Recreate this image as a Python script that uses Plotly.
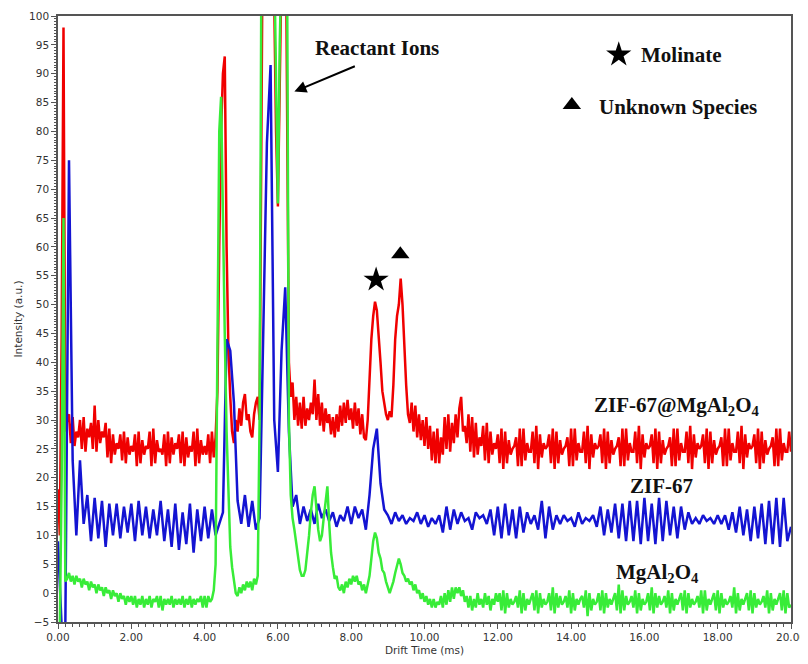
import numpy as np
import plotly.graph_objects as go

# Drift time sampling grids (ms)
drift_time_fine = np.round(np.arange(0, 20.0001, 0.05), 2)
drift_time_coarse = np.round(np.arange(0, 20.0001, 0.1), 1)

# ZIF-67@MgAl2O4 (0.05 ms steps)
zif67_mgal2o4 = [
    18, 10, 45, 98, 28, 30, 31, 26, 30.5, 25.5, 28, 27, 30, 25, 30.5, 24.5, 28.5, 27, 29.5, 25,
    32.5, 24.5, 30, 26, 28, 27, 29.5, 23.5, 28.5, 22.5, 27.5, 24, 26, 25, 27.5, 23, 28, 22.5, 27, 24,
    25.5, 24.5, 27.5, 22, 28, 22.5, 26.5, 24, 25.5, 25, 28, 22, 28.5, 22.5, 26.5, 24.5, 25, 24, 27.5, 22,
    28, 22.5, 27, 24, 26, 25, 27.5, 22.5, 28, 22, 27, 23.5, 25.5, 24.5, 28, 22, 28.5, 22.5, 26.5, 24,
    25.5, 24, 27.5, 22.5, 28, 23.5, 27, 35, 60, 80, 90, 93, 60, 42, 34, 28, 26, 30, 28, 32,
    29, 33, 34.5, 30, 31, 28, 27, 31, 33, 34, 30, 80, 130, 130, 130, 130, 130, 125, 100, 80,
    67, 90, 125, 130, 130, 90, 40, 34, 36.5, 30, 34, 29, 33, 28.5, 34, 29, 32, 30, 33, 31,
    37, 30, 34.5, 29, 33, 28, 32, 29.5, 31, 27.5, 30.5, 27, 31, 28, 32.5, 29, 33, 29.5, 33.5, 30,
    32, 28.5, 33, 29, 32, 27.5, 31, 27, 26.5, 30, 37, 44, 48, 50.5, 49, 45, 40, 35, 33, 31,
    30, 31.5, 30.5, 36, 44, 48, 50, 54.5, 50, 42, 36, 31, 29.5, 33, 28, 32.5, 27, 31, 26.5, 30,
    25.5, 30.5, 25, 29, 23, 28, 22.5, 28.5, 22.5, 27, 24, 30.5, 25, 31, 24.5, 29.5, 26, 31, 27, 32,
    34, 28, 29, 26, 31, 24.5, 30.5, 23.5, 29.5, 24, 27, 25.5, 29, 23, 29.5, 22.5, 28, 24, 26, 25,
    27.5, 22.5, 28.5, 21.5, 28, 22.5, 26.5, 24, 25, 25.5, 27, 22, 28.5, 22, 28.5, 23, 26, 24.5, 24.5, 28,
    22.5, 29, 21.5, 27.5, 23.5, 26, 25, 25.5, 27.5, 22.5, 28.5, 21.5, 28, 22.5, 26.5, 24, 25, 25.5, 27, 22,
    28.5, 22, 28.5, 23, 26, 24.5, 24.5, 28, 22.5, 29, 21.5, 27.5, 23.5, 26, 25, 25.5, 27.5, 22.5, 28.5, 21.5,
    28, 22.5, 26.5, 24, 25, 25.5, 27, 22, 28.5, 22, 28.5, 23, 26, 24.5, 24.5, 28, 22.5, 29, 21.5, 27.5,
    23.5, 26, 25, 25.5, 27.5, 22.5, 28.5, 21.5, 28, 22.5, 26.5, 24, 25, 25.5, 27, 22, 28.5, 22, 28.5, 23,
    26, 24.5, 24.5, 28, 22.5, 29, 21.5, 27.5, 23.5, 26, 25, 25.5, 27.5, 22.5, 28.5, 21.5, 28, 22.5, 26.5, 24,
    25, 25.5, 27, 22, 28.5, 22, 28.5, 23, 26, 24.5, 24.5, 28, 22.5, 29, 21.5, 27.5, 23.5, 26, 25, 25.5,
    27.5, 22.5, 28.5, 21.5, 28, 22.5, 26.5, 24, 25, 25.5, 27, 22, 28.5, 22, 28.5, 23, 26, 24.5, 24.5, 28,
    24.5,
]

# ZIF-67 (0.1 ms steps)
zif67 = [
    9, -6, -6, 75, 23, 10, 23, 12, 17, 9,
    16.5, 9.5, 16, 8, 15.5, 10, 15.5, 9.5, 15, 10.5,
    15.5, 9, 16, 10, 15, 9.5, 14.5, 10, 16, 9,
    14.5, 8, 15.5, 7.5, 14, 8.5, 15.5, 7, 14.5, 9,
    15, 9.5, 14.5, 10, 12, 14, 44, 42, 33, 16,
    12, 17, 11.5, 16, 11, 13, 45, 78, 91.5, 30,
    21, 42, 53, 28, 15, 17, 12, 15, 12.5, 14.5,
    12, 15.5, 13, 14.5, 12.5, 14, 11.5, 13.5, 12.5, 15,
    12, 15, 13, 14.5, 11, 17, 25, 28.5, 19, 14.5,
    13.5, 12, 14, 12.5, 13.5, 12, 13, 12.5, 14, 12,
    13.5, 11.5, 13, 12, 13.5, 10.5, 15, 11, 14.5, 12,
    14, 12.5, 13, 11, 14, 13, 13.5, 12, 14.5, 10,
    15, 9.5, 15.5, 10, 14.5, 9.5, 15, 10.5, 14, 12,
    13.5, 11, 16, 9.5, 15, 11, 13.5, 12, 13.5, 12.5,
    13, 11.5, 14, 12, 13, 12.5, 13.5, 11.5, 15, 10,
    14.5, 10.5, 15.5, 9.5, 15.5, 9, 16, 9, 16, 8.5,
    16.5, 9, 15.5, 8.5, 16.5, 9, 16, 10, 15, 9.5,
    15, 11, 14, 12, 13, 12, 13.5, 12.5, 13, 12,
    13.5, 12, 13.5, 11, 14, 10.5, 15, 10, 14.5, 9,
    15, 9.5, 15.5, 8.5, 16, 8.5, 16.5, 8, 16.5, 9,
    11.5,
]

# MgAl2O4 (0.05 ms steps)
mgal2o4 = [
    -6, -6, 20, 65, 2, 2.5, 3.5, 2, 3, 1.5, 3, 2, 2.5, 1, 2.5, 1.5, 2, 0.5, 2, 1,
    1.5, 0, 1.5, 0.5, 1, -0.5, 1, 0, 0.5, -1, 0.5, -0.5, 0, -1.5, 0, -1, -0.5, -2, -0.5, -1.5,
    -0.5, -2, -0.5, -2.5, -1, -2, -0.5, -2.5, -1, -2, -0.5, -2.5, -1, -1.5, -0.5, -2.5, -0.5, -3, -1, -2,
    -1, -2, -0.5, -2.5, -1, -2, -1, -2, -0.5, -2.5, -1, -2, -0.5, -2.5, -1, -2, -1, -1.5, -0.5, -2.5,
    -0.5, -2.5, -0.5, -1.5, -1, 0.5, 5, 40, 80, 86, 62, 45, 28, 16, 8, 4.5, 2, 0, -0.5, 1,
    0, 1.5, 0.5, 2, 1, 2, 0.5, 2.5, 1.5, 3, 30, 110, 140, 140, 140, 140, 140, 140, 110, 85,
    67.5, 95, 130, 140, 140, 110, 30, 17, 13, 11, 8.5, 6, 4, 3, 3, 4, 6.5, 10, 14, 17,
    18.5, 15, 11, 9, 10, 13, 16, 18.5, 12, 7, 4.5, 2.5, 3, 1, 0.5, 1.5, 0, 2, 1, 2.5,
    1.5, 3, 2, 3, 1.5, 2, 0.5, 1.5, 0, 1.5, 3, 6, 9, 10.5, 9.5, 7, 6, 4, 3.5, 2,
    1, 0, 1, 2, 3.5, 5, 6, 5, 3.5, 3, 2, 2.5, 1.5, 2, 0.5, 1.5, 0, 0.5, -1, 0,
    -1.5, -0.5, -2, -1, -2.5, -1, -2.5, -1.5, -2, -0.5, -2.5, 0, -2, 0.5, -1.5, 1, -1, 1, 0, 1,
    -0.5, 0.5, -1.5, -0.5, -2.5, -0.5, -3, -1, -2.5, 0, -2, -1, -2.5, 0, -2, -0.5, -3, -1, -2, 0,
    -1.5, 0, -3, 0.5, -3.5, 0, -2.5, -1, -2, -1.5, -0.5, -2.5, 0.5, -3.5, 0, -3, -1, -2, -1, 0,
    -3, 0.5, -3.5, 0, -2.5, -1, -2, -1.5, 0, -3, 1, -3.5, 0, -2.5, -0.5, -2, -1.5, -0.5, -2.5, 0.5,
    -3.5, 0, -3, -1, -2, -1, -0.5, -2.5, 0.5, -4, 0, -3, -1, -2, -1.5, 0, -3, 0.5, -3.5, 0,
    -2.5, -1, -2, -1, 0, -3, 1.5, -3.5, 0.5, -3, -0.5, -2, -1.5, -0.5, -2.5, 0.5, -3.5, 0, -3, -1,
    -2, -1.5, 0, -3, 1, -3.5, 0, -2.5, -0.5, -2, -1.5, -0.5, -2.5, 0.5, -3.5, 0, -3, -1, -2, -1,
    0, -3, 0.5, -3.5, 0, -2.5, -1, -2, -1.5, -0.5, -2.5, 0.5, -3.5, 0.5, -3, -1, -2, -1, 0, -3,
    0.5, -3.5, 0, -2.5, -1, -2, -1.5, -0.5, -2.5, 1, -3.5, 0, -3, -1, -2, -1, 0, -3, 0.5, -3.5,
    0, -2.5, -1, -2, -1.5, -0.5, -2.5, 0.5, -3.5, 0, -3, -1, -2, -1, 0, -3, 0.5, -3.5, 0, -2.5,
    -2,
]

series = [
    ("ZIF-67@MgAl2O4", drift_time_fine, zif67_mgal2o4, "#f00000"),
    ("ZIF-67", drift_time_coarse, zif67, "#1414d2"),
    ("MgAl2O4", drift_time_fine, mgal2o4, "#38ec38"),
]

x_ticks = [0, 2, 4, 6, 8, 10, 12, 14, 16, 18, 20]
x_tick_text = ["0.00", "2.00", "4.00", "6.00", "8.00", "10.00", "12.00",
               "14.00", "16.00", "18.00", "20.00"]
y_ticks = list(range(-5, 101, 5))

fig = go.Figure()
for name, xs, vals, col in series:
    fig.add_trace(go.Scatter(x=xs, y=vals, mode="lines", name=name,
                             line=dict(color=col, width=2.5), showlegend=False))

# peak markers
fig.add_trace(go.Scatter(x=[8.68], y=[54.3], mode="markers",
                         marker=dict(symbol="star", size=19, color="black"),
                         showlegend=False, hoverinfo="skip"))
fig.add_trace(go.Scatter(x=[9.34], y=[58.7], mode="markers",
                         marker=dict(symbol="triangle-up", size=16, color="black"),
                         showlegend=False, hoverinfo="skip"))
# key markers
fig.add_trace(go.Scatter(x=[15.3], y=[93.3], mode="markers",
                         marker=dict(symbol="star", size=19, color="black"),
                         showlegend=False, hoverinfo="skip"))
fig.add_trace(go.Scatter(x=[14.02], y=[84.6], mode="markers",
                         marker=dict(symbol="triangle-up", size=16, color="black"),
                         showlegend=False, hoverinfo="skip"))

serif = "Liberation Serif, Times New Roman, serif"
lab_font = dict(family=serif, size=21, color="#111111")

annotations = [
    dict(x=8.71, y=94.5, text="<b>Reactant Ions</b>", showarrow=False, font=lab_font,
         xanchor="center", yanchor="middle"),
    dict(x=15.85, y=93.3, text="<b>Molinate</b>", showarrow=False, font=lab_font,
         xanchor="left", yanchor="middle"),
    dict(x=14.7, y=84.3, text="<b>Unknown Species</b>", showarrow=False, font=lab_font,
         xanchor="left", yanchor="middle"),
    dict(x=16.89, y=32.5, text="<b>ZIF-67@MgAl<sub>2</sub>O<sub>4</sub></b>", showarrow=False,
         font=lab_font, xanchor="center", yanchor="middle"),
    dict(x=16.46, y=18.5, text="<b>ZIF-67</b>", showarrow=False, font=lab_font,
         xanchor="center", yanchor="middle"),
    dict(x=16.37, y=3.5, text="<b>MgAl<sub>2</sub>O<sub>4</sub></b>", showarrow=False,
         font=lab_font, xanchor="center", yanchor="middle"),
    # arrow pointing at the reactant ion peak
    dict(x=6.45, y=86.9, ax=8.14, ay=91.4, xref="x", yref="y", axref="x", ayref="y",
         text="", showarrow=True, arrowhead=2, arrowsize=1.2, arrowwidth=2,
         arrowcolor="black"),
]

# the page body adds an 8 px offset; figure sized so it ends at the window edge
fig.update_layout(
    width=800, height=656,
    margin=dict(l=50, r=17, t=8, b=42),
    paper_bgcolor="white", plot_bgcolor="white",
    annotations=annotations,
    font=dict(family="DejaVu Sans, Verdana, sans-serif", size=10, color="#333333"),
)
fig.update_xaxes(
    range=[0, 20], tickvals=x_ticks, ticktext=x_tick_text, automargin=False,
    showgrid=False, zeroline=False, showline=True, linecolor="#555555", linewidth=1.5,
    mirror=True, ticks="outside", ticklen=5, tickcolor="#555555",
    minor=dict(dtick=0.2, ticks="outside", ticklen=3, tickcolor="#555555", showgrid=False),
    title=dict(text="Drift Time (ms)", font=dict(size=10.5, color="#333333"), standoff=4),
    tickfont=dict(size=10.5, color="#333333"),
)
fig.update_yaxes(
    range=[-5, 100], tickvals=y_ticks, automargin=False,
    showgrid=False, zeroline=False, showline=True, linecolor="#555555", linewidth=1.5,
    mirror=True, ticks="outside", ticklen=5, tickcolor="#555555",
    minor=dict(dtick=0.5, ticks="outside", ticklen=2, tickcolor="#555555", showgrid=False),
    title=dict(text="Intensity (a.u.)", font=dict(size=10.5, color="#333333"), standoff=4),
    tickfont=dict(size=10.5, color="#333333"),
)

fig.write_html("out.html")
